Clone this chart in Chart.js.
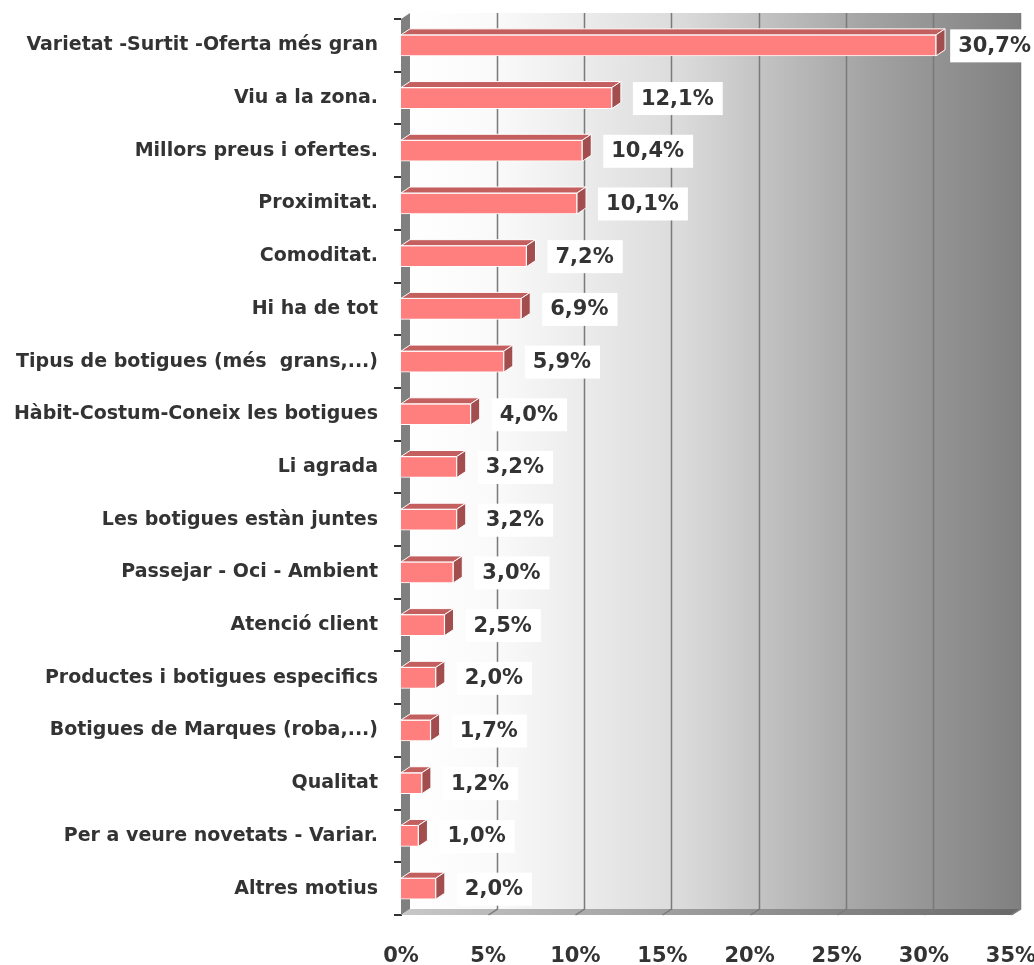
<!DOCTYPE html>
<html>
<head>
<meta charset="utf-8">
<script src="https://cdn.jsdelivr.net/npm/chart.js"></script>
<style>
  html, body { margin: 0; padding: 0; background: #fff; }
  #wrap { width: 1034px; height: 965px; }
</style>
</head>
<body>
<div id="wrap"><canvas id="myChart"></canvas></div>
<script>
// dades
var categories = [
  "Varietat -Surtit -Oferta més gran",
  "Viu a la zona.",
  "Millors preus i ofertes.",
  "Proximitat.",
  "Comoditat.",
  "Hi ha de tot",
  "Tipus de botigues (més  grans,...)",
  "Hàbit-Costum-Coneix les botigues",
  "Li agrada",
  "Les botigues estàn juntes",
  "Passejar - Oci - Ambient",
  "Atenció client",
  "Productes i botigues especifics",
  "Botigues de Marques (roba,...)",
  "Qualitat",
  "Per a veure novetats - Variar.",
  "Altres motius"
];
var percentatges = [30.7, 12.1, 10.4, 10.1, 7.2, 6.9, 5.9, 4.0, 3.2, 3.2, 3.0, 2.5, 2.0, 1.7, 1.2, 1.0, 2.0];
var xTicks = [0, 5, 10, 15, 20, 25, 30, 35];

var DX = 9, DY = 6;

var fons3d = {
  id: 'fons3d',
  beforeDatasetsDraw: function (chart) {
    var ctx = chart.ctx, a = chart.chartArea, xs = chart.scales.x;
    ctx.save();
    // paret del fons
    var g = ctx.createLinearGradient(a.left + DX, 0, a.right + DX, 0);
    g.addColorStop(0, '#ffffff');
    g.addColorStop(0.15, '#f9f9f9');
    g.addColorStop(0.45, '#dadada');
    g.addColorStop(0.75, '#a3a3a3');
    g.addColorStop(1, '#808080');
    ctx.fillStyle = g;
    ctx.fillRect(a.left + DX, a.top - DY, a.right - a.left, a.bottom - a.top);
    // paret esquerra
    ctx.fillStyle = '#808080';
    ctx.beginPath();
    ctx.moveTo(a.left, a.top);
    ctx.lineTo(a.left + DX, a.top - DY);
    ctx.lineTo(a.left + DX, a.bottom - DY);
    ctx.lineTo(a.left, a.bottom);
    ctx.closePath();
    ctx.fill();
    // terra
    var gf = ctx.createLinearGradient(a.left, 0, a.right, 0);
    gf.addColorStop(0, '#c8c8c8');
    gf.addColorStop(1, '#6a6a6a');
    ctx.fillStyle = gf;
    ctx.beginPath();
    ctx.moveTo(a.left, a.bottom);
    ctx.lineTo(a.left + DX, a.bottom - DY);
    ctx.lineTo(a.right + DX, a.bottom - DY);
    ctx.lineTo(a.right, a.bottom);
    ctx.closePath();
    ctx.fill();
    // línies de graella
    ctx.strokeStyle = '#7a7a7a';
    ctx.lineWidth = 1.5;
    xTicks.forEach(function (v) {
      if (v === 0) return;
      var x = Math.round(xs.getPixelForValue(v)) + 0.5;
      ctx.beginPath();
      ctx.moveTo(x + DX, a.top - DY);
      ctx.lineTo(x + DX, a.bottom - DY);
      ctx.lineTo(x, a.bottom);
      ctx.stroke();
    });
    ctx.restore();
  },
  afterDatasetsDraw: function (chart) {
    var ctx = chart.ctx;
    var meta = chart.getDatasetMeta(0);
    ctx.save();
    meta.data.forEach(function (bar, i) {
      var top = bar.y - bar.height / 2, bot = bar.y + bar.height / 2;
      var x0 = bar.base, x1 = bar.x;
      ctx.lineWidth = 1;
      ctx.strokeStyle = '#ffffff';
      // cara superior
      ctx.fillStyle = '#c45f60';
      ctx.beginPath();
      ctx.moveTo(x0, top);
      ctx.lineTo(x0 + DX, top - DY);
      ctx.lineTo(x1 + DX, top - DY);
      ctx.lineTo(x1, top);
      ctx.closePath();
      ctx.fill();
      ctx.stroke();
      // cara lateral
      ctx.fillStyle = '#a24e4f';
      ctx.beginPath();
      ctx.moveTo(x1, top);
      ctx.lineTo(x1 + DX, top - DY);
      ctx.lineTo(x1 + DX, bot - DY);
      ctx.lineTo(x1, bot);
      ctx.closePath();
      ctx.fill();
      ctx.stroke();
      // etiqueta
      var txt = percentatges[i].toFixed(1).replace('.', ',') + '%';
      ctx.font = 'bold 21px "DejaVu Sans"';
      var w = ctx.measureText(txt).width;
      var bx = Math.min(x1 + DX + 12, chart.width - w - 11);
      ctx.fillStyle = '#ffffff';
      ctx.fillRect(bx, bar.y - 16, w + 17, 33);
      ctx.fillStyle = '#333333';
      ctx.textBaseline = 'middle';
      ctx.textAlign = 'left';
      ctx.fillText(txt, bx + 8, bar.y + 1);
    });
    ctx.restore();
  }
};

new Chart(document.getElementById('myChart'), {
  type: 'bar',
  data: {
    labels: categories,
    datasets: [{
      data: percentatges,
      backgroundColor: '#ff7f7f',
      borderColor: '#ffffff',
      borderWidth: 1,
      barThickness: 21
    }]
  },
  options: {
    indexAxis: 'y',
    responsive: true,
    maintainAspectRatio: false,
    animation: false,
    layout: { padding: { top: 19, right: 23, left: 0, bottom: 0 } },
    plugins: { legend: { display: false }, tooltip: { enabled: false } },
    scales: {
      x: {
        min: 0, max: 35,
        afterBuildTicks: function (s) { s.ticks = xTicks.map(function (v) { return { value: v }; }); },
        afterFit: function (s) { s.height = 50; s.paddingRight = 0; s.paddingLeft = 0; },
        grid: { display: false },
        border: { display: false },
        ticks: {
          padding: 21,
          color: '#333333',
          font: { family: 'DejaVu Sans', size: 21, weight: 'bold' },
          callback: function (v) { return v + '%'; }
        }
      },
      y: {
        afterFit: function (s) { s.width = 401; s.paddingTop = 0; s.paddingBottom = 0; },
        grid: { offset: true, drawOnChartArea: false, tickLength: 7, color: '#333333', lineWidth: 2 },
        border: { display: true, color: '#333333', width: 1 },
        ticks: {
          padding: 16,
          color: '#333333',
          font: { family: 'DejaVu Sans', size: 19, weight: 'bold' }
        }
      }
    }
  },
  plugins: [fons3d]
});
</script>
</body>
</html>
